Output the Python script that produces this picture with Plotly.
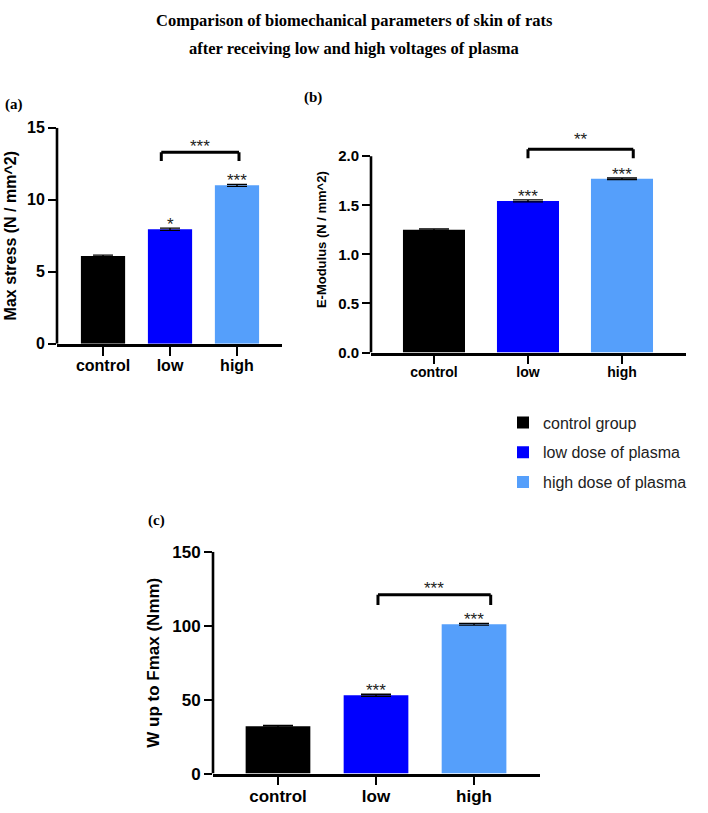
import plotly.graph_objects as go

W, H = 708, 813
VSCALE = 0.995  # small vertical compensation for page rendering

# ---------------- data ----------------
categories = ["control", "low", "high"]
legend_names = ["control group", "low dose of plasma", "high dose of plasma"]
bar_colors = ["#000000", "#0000FF", "#559FFB"]

max_stress = [6.1, 7.95, 11.0]
max_stress_err = [0.05, 0.08, 0.07]
max_stress_stars = ["", "*", "***"]

e_modulus = [1.25, 1.545, 1.77]
e_modulus_err = [0.008, 0.01, 0.008]
e_modulus_stars = ["", "***", "***"]

w_fmax = [32.0, 53.0, 101.0]
w_fmax_err = [0.6, 0.7, 0.6]
w_fmax_stars = ["", "***", "***"]

# bracket comparisons: (x start, x end, top, leg bottom, label, label y)
bracket_a = (0.87, 2.03, 13.3, 12.7, "***", 13.9)
bracket_b = (1.0, 2.12, 2.07, 1.98, "**", 2.2)
bracket_c = (1.02, 2.17, 121.0, 114.0, "***", 127.5)

yticks_a = [0, 5, 10, 15]
yticks_b = [0, 0.5, 1.0, 1.5, 2.0]
yticks_b_text = ["0.0", "0.5", "1.0", "1.5", "2.0"]
yticks_c = [0, 50, 100, 150]


def px_x(p):
    return p / W


def px_y(p):
    return 1 - (p / VSCALE) / H


fig = go.Figure()

panels = [
    dict(key="", vals=max_stress, err=max_stress_err, stars=max_stress_stars,
         cap=10, legend=True),
    dict(key="2", vals=e_modulus, err=e_modulus_err, stars=e_modulus_stars,
         cap=15, legend=False),
    dict(key="3", vals=w_fmax, err=w_fmax_err, stars=w_fmax_stars,
         cap=15, legend=False),
]

for p in panels:
    for i, cat in enumerate(categories):
        fig.add_trace(go.Bar(
            x=[cat], y=[p["vals"][i]],
            width=0.66,
            marker=dict(color=bar_colors[i], line=dict(width=0)),
            error_y=dict(type="data", array=[p["err"][i]], visible=True,
                         color="#000000", thickness=1.4, width=p["cap"]),
            name=legend_names[i],
            legendgroup=legend_names[i],
            showlegend=p["legend"],
            xaxis="x" + p["key"], yaxis="y" + p["key"],
        ))

axis_font = dict(family="Arial, Liberation Sans, sans-serif", color="#000000", weight="bold")
common_x = dict(type="category", categoryorder="array", categoryarray=categories,
                showline=True, linecolor="#000000", linewidth=2.6,
                ticks="outside", ticklen=9, tickwidth=2.4, tickcolor="#000000",
                ticklabelstandoff=-4,
                showgrid=False, zeroline=False, fixedrange=True)
common_y = dict(showline=False, ticks="outside", ticklen=8, tickwidth=2.4,
                tickcolor="#000000", showgrid=False, zeroline=False, fixedrange=True)

fig.update_layout(
    xaxis=dict(common_x, domain=[px_x(57), px_x(282)], range=[-0.687, 2.672],
               anchor="y", tickfont=dict(axis_font, size=16)),
    yaxis=dict(common_y, domain=[px_y(341), px_y(121)], range=[0, 15],
               anchor="x", tickvals=yticks_a, tickfont=dict(axis_font, size=16),
               title=dict(text="Max stress (N / mm^2)", font=dict(axis_font, size=16),
                          standoff=6)),
    xaxis2=dict(common_x, domain=[px_x(371), px_x(686)], range=[-0.670, 2.681],
                anchor="y2", tickfont=dict(axis_font, size=14)),
    yaxis2=dict(common_y, domain=[px_y(350), px_y(120)], range=[0, 2.3],
                anchor="x2", tickvals=yticks_b, ticktext=yticks_b_text,
                tickfont=dict(axis_font, size=15),
                title=dict(text="E-Modulus (N / mm^2)", font=dict(axis_font, size=13),
                           standoff=8)),
    xaxis3=dict(common_x, domain=[px_x(213), px_x(540)], range=[-0.663, 2.673],
                anchor="y3", tickfont=dict(axis_font, size=17)),
    yaxis3=dict(common_y, domain=[px_y(779), px_y(553)], range=[0, 150],
                anchor="x3", tickvals=yticks_c, tickfont=dict(axis_font, size=17),
                title=dict(text="W up to Fmax (Nmm)", font=dict(axis_font, size=17),
                           standoff=8)),
)

shapes = []
annotations = []

# y-axis lines (drawn from 0 to the top tick)
for key, top in [("", yticks_a[-1]), ("2", yticks_b[-1]), ("3", yticks_c[-1])]:
    shapes.append(dict(type="line", xref=f"x{key} domain", yref=f"y{key}",
                       x0=0, x1=0, y0=0, y1=top,
                       line=dict(color="#000000", width=2.6)))

# brackets and stars
star_font = dict(family="Arial, Liberation Sans, sans-serif", size=17, color="#222222")
for key, br in [("", bracket_a), ("2", bracket_b), ("3", bracket_c)]:
    x0, x1, ytop, yleg, lab, laby = br
    for (a0, a1, b0, b1) in [(x0, x0, yleg, ytop), (x0, x1, ytop, ytop), (x1, x1, ytop, yleg)]:
        shapes.append(dict(type="line", xref=f"x{key}", yref=f"y{key}",
                           x0=a0, x1=a1, y0=b0, y1=b1,
                           line=dict(color="#000000", width=3)))
    annotations.append(dict(xref=f"x{key}", yref=f"y{key}", x=(x0 + x1) / 2, y=laby,
                            text=lab, showarrow=False, font=star_font,
                            xanchor="center", yanchor="middle", yshift=-3))

for p in panels:
    for i, cat in enumerate(categories):
        if p["stars"][i]:
            annotations.append(dict(xref="x" + p["key"], yref="y" + p["key"],
                                    x=i, y=p["vals"][i] + p["err"][i],
                                    text=p["stars"][i], showarrow=False, font=star_font,
                                    xanchor="center", yanchor="bottom", yshift=-8))

# titles and panel labels
serif = dict(family="Times New Roman, Liberation Serif, serif", color="#000000", weight="bold")
annotations += [
    dict(xref="paper", yref="paper", x=0.5, y=px_y(12), text="Comparison of biomechanical parameters of skin of rats",
         showarrow=False, font=dict(serif, size=16.5), xanchor="center", yanchor="middle"),
    dict(xref="paper", yref="paper", x=0.5, y=px_y(40), text="after receiving low and high voltages of plasma",
         showarrow=False, font=dict(serif, size=16.5), xanchor="center", yanchor="middle"),
    dict(xref="paper", yref="paper", x=px_x(3), y=px_y(97), text="(a)",
         showarrow=False, font=dict(serif, size=15), xanchor="left", yanchor="middle"),
    dict(xref="paper", yref="paper", x=px_x(302), y=px_y(90), text="(b)",
         showarrow=False, font=dict(serif, size=15), xanchor="left", yanchor="middle"),
    dict(xref="paper", yref="paper", x=px_x(146), y=px_y(521), text="(c)",
         showarrow=False, font=dict(serif, size=15), xanchor="left", yanchor="middle"),
]

fig.update_layout(
    width=W, height=H, autosize=False,
    margin=dict(l=0, r=0, t=0, b=0),
    paper_bgcolor="#FFFFFF", plot_bgcolor="#FFFFFF",
    barmode="overlay",
    shapes=shapes, annotations=annotations,
    showlegend=True,
    legend=dict(x=px_x(503), y=px_y(404), xanchor="left", yanchor="top",
                traceorder="grouped", tracegroupgap=6,
                font=dict(family="Arial, Liberation Sans, sans-serif", size=16, color="#222222"),
                bgcolor="rgba(0,0,0,0)"),
)

fig.write_html("out.html", config={"displayModeBar": False},
               post_script="document.body.style.margin='0';document.body.style.overflow='hidden';")
